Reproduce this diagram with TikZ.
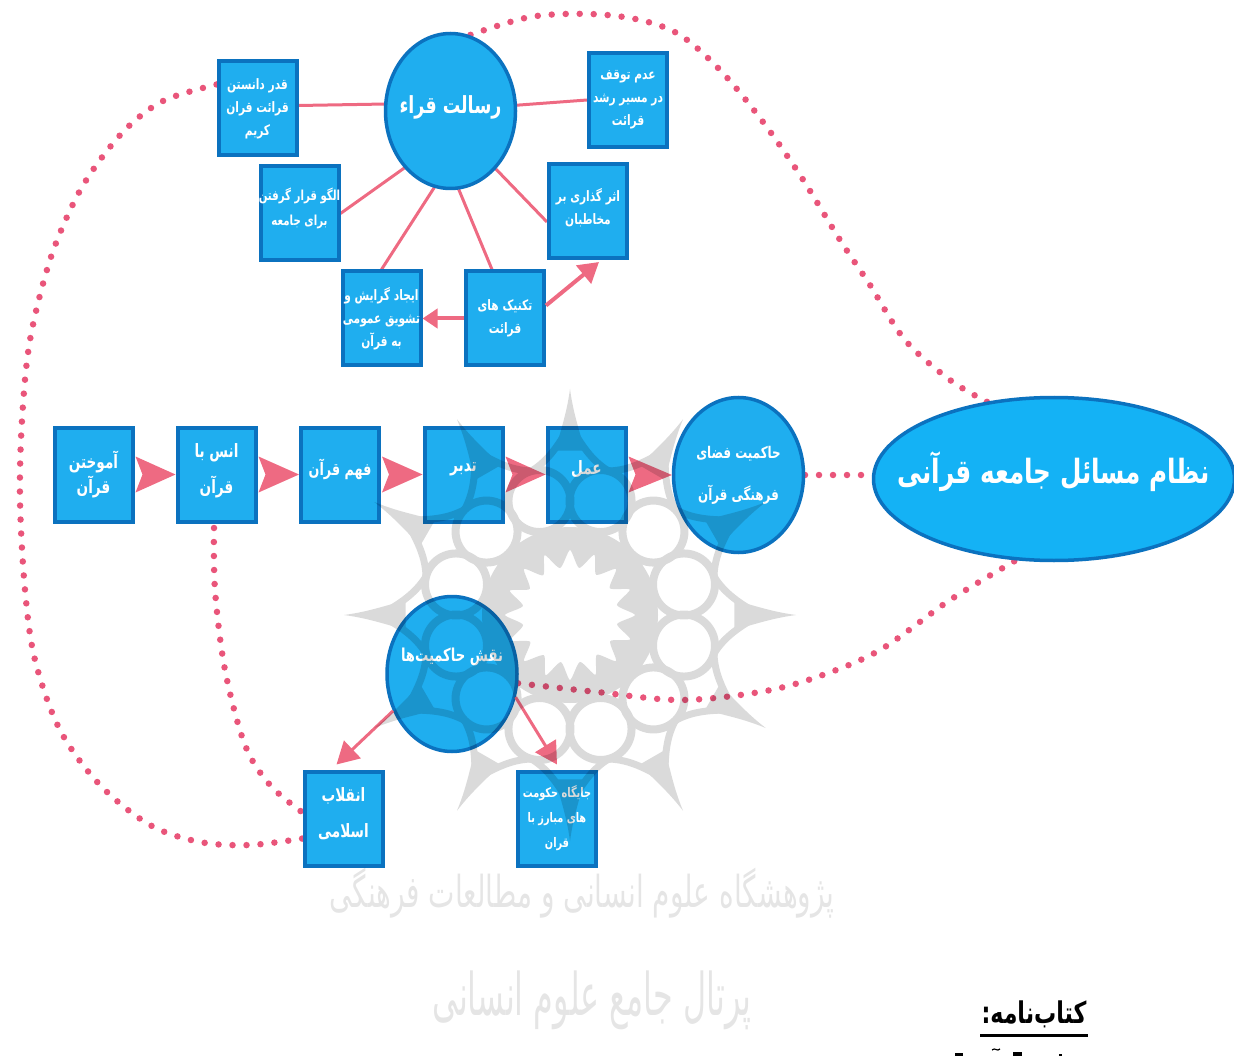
\documentclass[tikz,border=0pt]{standalone}
\usepackage{fontspec}
\usetikzlibrary{shapes.geometric,arrows.meta,backgrounds,calc}
\TeXXeTstate=1
\newfontfamily\arabicfont[Script=Arabic]{DejaVu Sans}
\newcommand{\fa}[1]{\scalebox{0.85}[1.15]{\arabicfont #1}}
\newcommand{\upby}[2]{\raisebox{#1}{\makebox[0pt]{\fa{#2}}}}
\newcommand{\wfa}[3]{\scalebox{#1}[#2]{\arabicfont #3}}
\definecolor{bfill}{HTML}{1FAEEF}
\definecolor{bbord}{HTML}{0B72BF}
\definecolor{pinkc}{HTML}{EE6A82}
\definecolor{dotc}{HTML}{E9557A}
\definecolor{wmk}{HTML}{DADADA}
\tikzset{
 qbox/.style={rectangle,draw=bbord,fill=bfill,line width=4pt,minimum width=78pt,minimum height=94pt,inner sep=0pt,outer sep=2pt,text=white,align=center,font=\arabicfont\bfseries\fontsize{12.5}{23}\selectfont},
 qell/.style={ellipse,draw=bbord,fill=bfill,line width=3.5pt,inner sep=0pt,outer sep=1.5pt,text=white,align=center},
 link/.style={draw=pinkc,line width=3pt},
 arw/.style={draw=pinkc,fill=pinkc,line width=#1},
 dots/.style={draw=dotc,line width=6.5pt,line cap=round,dash pattern=on 0pt off 14pt},
 chevron/.style={fill=pinkc,draw=none},
 wmtext/.style={text=wmk!70,font=\arabicfont\fontsize{40}{48}\selectfont}
}
\newcommand{\chev}[2]{\fill[chevron] ($(#1.east)+(1,-18)$) -- ($(#1.east)+(8,0)$) -- ($(#1.east)+(1,18)$) -- (#2.west) -- cycle;}
\begin{document}
\begin{tikzpicture}[x=1pt,y=-1pt]
\useasboundingbox (0,0) rectangle (1234,1056);
% top cluster
\node[qell,minimum width=130pt,minimum height=155pt,font=\arabicfont\bfseries\fontsize{20.5}{23}\selectfont] (res) at (450.5,111) {\upby{12pt}{\beginR رسالت قراء\endR}};
\node[qbox] (qadr) at (257.5,108.5) {\fa{\beginR قدر دانستن\endR}\\\fa{\beginR قرائت قران\endR}\\\fa{\beginR کریم\endR}};
\node[qbox] (adam) at (628,100) {\fa{\beginR عدم توقف\endR}\\\fa{\beginR در مسیر رشد\endR}\\\fa{\beginR قرائت\endR}};
\node[qbox,font=\arabicfont\bfseries\fontsize{12}{23}\selectfont] (olgu) at (299.5,213.5) {\upby{14pt}{\beginR الگو قرار گرفتن\endR}\\\upby{14pt}{\beginR برای جامعه\endR}};
\node[qbox] (asar) at (588,211) {\upby{10pt}{\beginR اثر گذاری بر\endR}\\\upby{10pt}{\beginR مخاطبان\endR}};
\node[qbox] (ijad) at (381.5,318.5) {\fa{\beginR ایجاد گرایش و\endR}\\\fa{\beginR تشویق عمومی\endR}\\\fa{\beginR به قرآن\endR}};
\node[qbox] (teknik) at (505,318.5) {\fa{\beginR تکنیک های\endR}\\\fa{\beginR قرائت\endR}};
% middle row
\node[qbox,font=\arabicfont\bfseries\fontsize{16}{25}\selectfont] (amu) at (93.5,474.5) {\fa{\beginR آموختن\endR}\\\fa{\beginR قرآن\endR}};
\node[qbox,font=\arabicfont\bfseries\fontsize{16}{36}\selectfont] (ons) at (216.5,474.5) {\upby{12pt}{\beginR انس با\endR}\\\upby{12pt}{\beginR قرآن\endR}};
\node[qbox,font=\arabicfont\bfseries\fontsize{15}{25}\selectfont] (fahm) at (340,474.5) {\upby{14pt}{\beginR فهم قرآن\endR}};
\node[qbox,font=\arabicfont\bfseries\fontsize{16}{25}\selectfont] (tad) at (463.5,474.5) {\upby{14pt}{\beginR تدبر\endR}};
\node[qbox,font=\arabicfont\bfseries\fontsize{16}{25}\selectfont] (amal) at (586.5,474.5) {\upby{14pt}{\beginR عمل\endR}};
\node[qell,minimum width=130pt,minimum height=155pt,font=\arabicfont\bfseries\fontsize{14}{42}\selectfont] (hak) at (738.5,475) {\makebox[0pt]{\fa{\beginR حاکمیت فضای\endR}}\\\makebox[0pt]{\fa{\beginR فرهنگی قرآن\endR}}};
\node[qell,minimum width=361pt,minimum height=163pt,fill=bfill!70!cyan!90!blue,font=\arabicfont\bfseries\fontsize{29}{30}\selectfont] (big) at (1054,479) {\upby{22pt}{\beginR نظام مسائل جامعه قرآنی\endR}};
% lower cluster
\node[qell,minimum width=130pt,minimum height=155pt,font=\arabicfont\bfseries\fontsize{15.5}{25}\selectfont] (naq) at (452,674) {\upby{38pt}{\beginR نقش  حاکمیت^^^^200cها\endR}};
\node[qbox,font=\arabicfont\bfseries\fontsize{16}{36}\selectfont] (eng) at (343.5,818.5) {\upby{12pt}{\beginR انقلاب\endR}\\\upby{12pt}{\beginR اسلامی\endR}};
\node[qbox,font=\arabicfont\bfseries\fontsize{11.5}{25}\selectfont] (jay) at (557,818.5) {\fa{\beginR جایگاه حکومت\endR}\\\fa{\beginR های مبارز با\endR}\\\fa{\beginR قران\endR}};
% book list
\node[inner sep=0pt,font=\arabicfont\bfseries\fontsize{26}{30}\selectfont] (kt) at (1034,1014) {\fa{\beginR کتاب^^^^200cنامه:\endR}};
\begin{pgfonlayer}{background}
\draw[dots] plot[smooth,tension=.55] coordinates {(big.131) (950,380) (905,340) (870,285) (840,240) (800,175) (760,118) (720,70) (680,35) (640,20) (590,14) (530,17) (res.76)};
\draw[dots] plot[smooth,tension=.55] coordinates {([yshift=24pt]qadr.west) (165,100) (130,125) (100,160) (75,200) (50,260) (30,340) (22,420) (20,500) (25,590) (35,660) (60,730) (100,785) (150,825) (200,842) (250,845) ([yshift=-20pt]eng.west)};
\draw[dots] plot[smooth,tension=.55] coordinates {(214,528) (215,590) (225,670) (245,745) (270,785) ([yshift=6pt]eng.west)};
\draw[dots] (hak.east) -- (big.west |- hak.east);
\draw[dots] plot[smooth,tension=.55] coordinates {(naq.-8) (597,692) (680,700) (760,692) (817,677) (880,650) (950,600) (big.-115)};
\draw[link] ([yshift=3pt]qadr.east) -- (res.174);
\draw[link] (adam.west) -- (res.5);
\draw[link] (olgu.east) -- (res.231);
\draw[link] ([yshift=-11pt]asar.west) -- (res.308);
\draw[link] (ijad.north) -- (res.258);
\draw[link] ([xshift=-13pt]teknik.north) -- (res.276);
\end{pgfonlayer}
\draw[arw=4pt,-{Triangle[length=20pt,width=23pt]}] ([yshift=13pt]teknik.east) -- ([xshift=11pt,yshift=-2pt]asar.south);
\draw[arw=4pt,-{Triangle[length=15pt,width=19pt]}] (teknik.west) -- (ijad.east);
\draw[arw=3pt,-{Triangle[length=22pt,width=24pt]}] (naq.212) -- ([xshift=-7pt,yshift=5pt]eng.north);
\draw[arw=3pt,-{Triangle[length=22pt,width=24pt]}] (naq.-20) -- ([yshift=5pt]jay.north);
\chev{amu}{ons}
\chev{ons}{fahm}
\chev{fahm}{tad}
\chev{tad}{amal}
\chev{amal}{hak}
\fill (980,1034) rectangle (1088,1036.5);
% clipped first line of the list
\begin{scope}
\clip (0,0) rectangle (1234,1056);
\fill (955,1053) rectangle (963,1056);
\draw[line width=1.2pt] (992,1050) .. controls (995,1047) and (997,1052) .. (1000,1049);
\fill (1013,1052) rectangle (1022,1056);
\fill (1059,1054) rectangle (1062,1056);
\end{scope}
% watermark
\begin{scope}[blend mode=multiply]
\begin{scope}[transparency group]
\begin{scope}[shift={(570,615)}]
\foreach \a in {0,30,...,330}{
  \fill[wmk] (\a:226) .. controls (\a+1:200) and (\a+3:185) .. (\a+5:165) -- (\a-5:165) .. controls (\a-3:185) and (\a-1:200) .. (\a:226) -- cycle;
  \draw[wmk,line width=7pt] (\a:190) .. controls (\a+5:165) and (\a+9:155) .. (\a+15:149);
  \draw[wmk,line width=7pt] (\a:190) .. controls (\a-5:165) and (\a-9:155) .. (\a-15:149);
  \draw[wmk,line width=8pt] (\a+15:118) circle[radius=31];
}
\fill[wmk,even odd rule] (0,0) circle[radius=88]
  plot[smooth cycle,tension=.4] coordinates {(0:65) (11:48) (22:65) (33:48) (45:65) (56:48) (67:65) (78:48) (90:65) (101:48) (112:65) (123:48) (135:65) (146:48) (157:65) (168:48) (180:65) (191:48) (202:65) (213:48) (225:65) (236:48) (247:65) (258:48) (270:65) (281:48) (292:65) (303:48) (315:65) (326:48) (337:65) (348:48)};
\end{scope}
\node[wmtext] (wa) at (582,893) {\wfa{0.7}{1.1}{\beginR پژوهشگاه علوم انسانی و مطالعات فرهنگی\endR}};
\node[wmtext,font=\arabicfont\fontsize{49}{58}\selectfont] (wb) at (592,1000) {\wfa{0.65}{1.2}{\beginR پرتال جامع علوم انسانی\endR}};
\end{scope}
\end{scope}
\end{tikzpicture}
\end{document}
